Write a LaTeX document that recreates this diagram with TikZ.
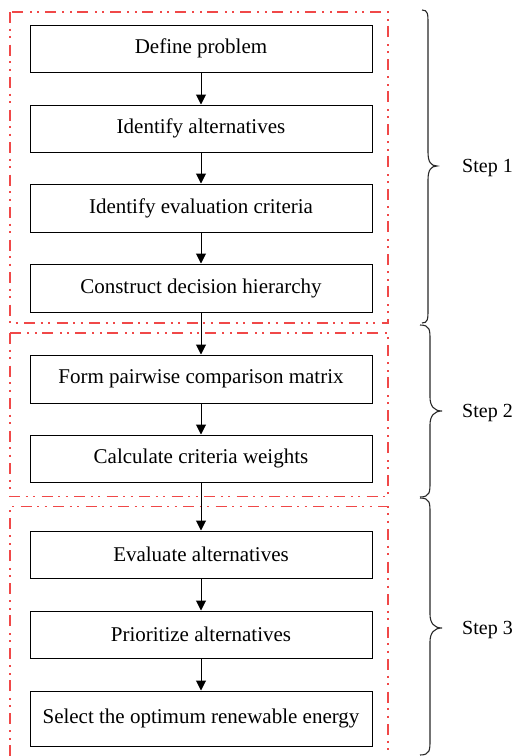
\documentclass[tikz,border=0pt]{standalone}
\usepackage{fontspec}
\setmainfont{Liberation Serif}
\usetikzlibrary{arrows.meta}
\definecolor{framered}{RGB}{240,72,72}
\definecolor{bracegray}{RGB}{40,40,40}
\tikzset{
  stepbox/.style={draw=black, line width=1pt, minimum width=342pt, inner sep=1pt,
    font=\fontsize{21}{25}\selectfont, anchor=center},
  flow/.style={line width=1pt, -{Triangle[length=10pt,width=10pt]}},
  frame/.style={draw=framered, line width=1.4pt,
    dash pattern=on 11pt off 5.5pt on 2pt off 5.5pt on 2pt off 6.5pt},
  bracestyle/.style={draw=bracegray, line width=1.1pt},
  steplabel/.style={anchor=base west, inner sep=0pt, font=\fontsize{20}{24}\selectfont}
}
\begin{document}
\begin{tikzpicture}[x=1pt,y=-1pt]
\useasboundingbox (0,0) rectangle (515,756);
% red frames
\draw[frame] (10,12) rectangle (388,323);
\draw[frame] (10,333) rectangle (388,496.5);
\draw[frame] (10,756) -- (10,506.5) -- (388,506.5) -- (388,756);
% boxes
\node[stepbox, minimum height=47pt] (b1) at (201,48.5) {Define problem};
\node[stepbox, minimum height=47pt] (b2) at (201,128.5) {Identify alternatives};
\node[stepbox, minimum height=48pt] (b3) at (201,208) {Identify evaluation criteria};
\node[stepbox, minimum height=48pt] (b4) at (201,288) {Construct decision hierarchy};
\node[stepbox, minimum height=48pt] (b5) at (201,379) {Form pairwise comparison matrix};
\node[stepbox, minimum height=47pt] (b6) at (201,458.5) {Calculate criteria weights};
\node[stepbox, minimum height=47pt] (b7) at (201,554.5) {Evaluate alternatives};
\node[stepbox, minimum height=47pt] (b8) at (201,634.5) {Prioritize alternatives};
\node[stepbox, minimum height=55pt] (b9) at (201,718.5) {Select the optimum renewable energy};
% arrows
\draw[flow] (b1) -- (b2);
\draw[flow] (b2) -- (b3);
\draw[flow] (b3) -- (b4);
\draw[flow] (b4) -- (b5);
\draw[flow] (b5) -- (b6);
\draw[flow] (b6) -- (b7);
\draw[flow] (b7) -- (b8);
\draw[flow] (b8) -- (b9);
% braces
\draw[bracestyle] (422,10) .. controls (428,10) and (428,14) .. (428,24) -- (428,152)
  .. controls (428,162) and (431,166) .. (437,166)
  .. controls (431,166) and (428,170) .. (428,180) -- (428,309)
  .. controls (428,319) and (428,323) .. (422,323);
\draw[bracestyle] (420,325) .. controls (430,325) and (430,330) .. (430,340) -- (430,397)
  .. controls (430,406) and (434,411) .. (442,411)
  .. controls (434,411) and (430,416) .. (430,425) -- (430,482)
  .. controls (430,492) and (430,497) .. (420,497);
\draw[bracestyle] (420,498) .. controls (430,498) and (430,503) .. (430,513) -- (430,614)
  .. controls (430,623) and (434,628) .. (442,628)
  .. controls (434,628) and (430,633) .. (430,642) -- (430,740)
  .. controls (430,750) and (430,755) .. (420,755);
% labels
\node[steplabel] (s1) at (462,172.5) {Step 1};
\node[steplabel] (s2) at (462,417.5) {Step 2};
\node[steplabel] (s3) at (462,634.5) {Step 3};
\end{tikzpicture}
\end{document}
